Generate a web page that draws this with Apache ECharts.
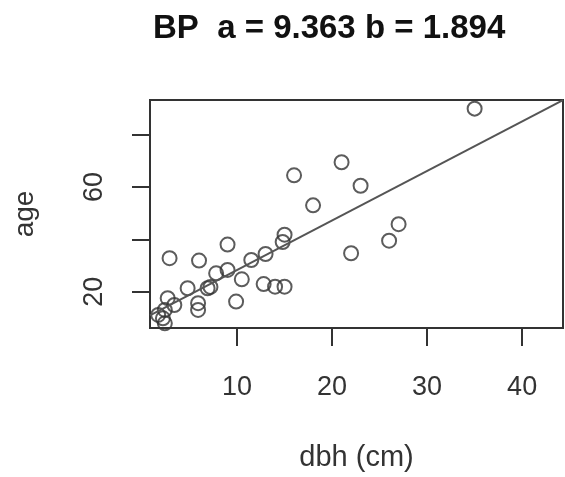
<!DOCTYPE html>
<html>
<head>
<meta charset="utf-8">
<script src="https://cdn.jsdelivr.net/npm/echarts@6/dist/echarts.min.js"></script>
<style>
  html, body { margin: 0; padding: 0; background: #fff; }
  #chart { width: 565px; height: 477px; }
</style>
</head>
<body>
<div id="chart"></div>
<script>
// tree data
var dbh = [35, 21, 23, 16, 18, 15, 14.8, 9, 2.9, 6, 13, 11.5, 9, 7.8, 10.5, 12.8, 14, 15, 6.9, 7.2, 4.8, 9.9, 5.9, 5.9, 2.7, 3.4, 2.4, 2.2, 1.7, 2.4, 27, 26, 22];
var age = [90, 69.5, 60.5, 64.5, 53, 41.8, 39, 38, 32.8, 31.9, 34.4, 32.1, 28.3, 27, 24.7, 22.9, 21.9, 21.9, 21.3, 21.8, 21.3, 16.2, 15.6, 13, 17.5, 14.9, 13, 9.8, 11.1, 7.9, 45.8, 39.5, 34.7];

// fitted line age = a + b * dbh
var a = 9.363;
var b = 1.894;

var xRange = [0.84, 44.3];
var yRange = [6.1, 93.3];
var xTicks = [10, 20, 30, 40];
var yTicks = [20, 40, 60, 80];
var yLabels = [20, 60];

var points = dbh.map(function (d, i) { return [d, age[i]]; });
var fit = xRange.map(function (x) { return [x, a + b * x]; });

var font = 'Liberation Sans, Arial, sans-serif';
var ink = '#333';

var chart = echarts.init(document.getElementById('chart'));
chart.setOption({
  animation: false,
  title: {
    text: 'BP  a = ' + a + ' b = ' + b,
    left: 148,
    top: 7,
    textStyle: { fontFamily: font, fontSize: 33, fontWeight: 'bold', color: '#111' }
  },
  grid: {
    left: 150, right: 2, top: 100, bottom: 149,
    outerBoundsMode: 'none',
    show: true, borderColor: ink, borderWidth: 2, backgroundColor: '#fff'
  },
  xAxis: {
    type: 'value',
    min: xRange[0], max: xRange[1],
    name: 'dbh (cm)',
    nameLocation: 'middle',
    nameGap: 115,
    nameTextStyle: { fontFamily: font, fontSize: 29, color: ink },
    axisLine: { show: true, lineStyle: { color: ink, width: 2 } },
    axisTick: { show: true, length: 18, customValues: xTicks, lineStyle: { color: ink, width: 2 } },
    axisLabel: { customValues: xTicks, margin: 46, fontFamily: font, fontSize: 27, color: ink },
    splitLine: { show: false }
  },
  yAxis: {
    type: 'value',
    min: yRange[0], max: yRange[1],
    name: 'age',
    nameLocation: 'middle',
    nameGap: 111,
    nameRotate: 90,
    nameTextStyle: { fontFamily: font, fontSize: 28, color: ink },
    axisLine: { show: true, lineStyle: { color: ink, width: 2 } },
    axisTick: { show: true, length: 18, customValues: yTicks, lineStyle: { color: ink, width: 2 } },
    axisLabel: { customValues: yLabels, rotate: 90, margin: 42, fontFamily: font, fontSize: 27, color: ink },
    splitLine: { show: false }
  },
  series: [
    {
      type: 'scatter',
      data: points,
      symbol: 'circle',
      symbolSize: 14,
      itemStyle: { color: 'rgba(0,0,0,0)', borderColor: ink, borderWidth: 2 }
    },
    {
      type: 'line',
      data: fit,
      symbol: 'none',
      lineStyle: { color: '#555', width: 2 }
    }
  ]
});
</script>
</body>
</html>
